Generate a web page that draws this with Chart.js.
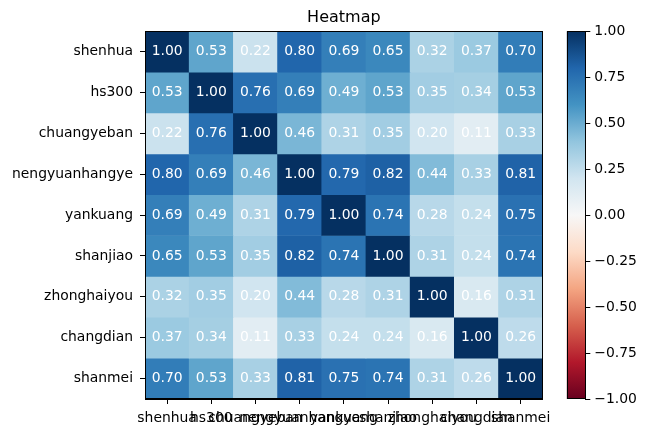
<!DOCTYPE html>
<html><head><meta charset="utf-8">
<script src="https://cdn.jsdelivr.net/npm/chart.js@4"></script>
<style>
html,body{margin:0;padding:0;background:#fff;overflow:hidden}
#wrap{position:relative;width:656px;height:435px}
canvas{position:absolute;left:0;top:0}
</style></head><body>
<div id="wrap"><canvas id="hm" width="656" height="435"></canvas><canvas id="cb" width="656" height="435"></canvas></div>
<script>
const labels = ['shenhua','hs300','chuangyeban','nengyuanhangye','yankuang','shanjiao','zhonghaiyou','changdian','shanmei'];
const values = [
  [1.00,0.53,0.22,0.80,0.69,0.65,0.32,0.37,0.70],
  [0.53,1.00,0.76,0.69,0.49,0.53,0.35,0.34,0.53],
  [0.22,0.76,1.00,0.46,0.31,0.35,0.20,0.11,0.33],
  [0.80,0.69,0.46,1.00,0.79,0.82,0.44,0.33,0.81],
  [0.69,0.49,0.31,0.79,1.00,0.74,0.28,0.24,0.75],
  [0.65,0.53,0.35,0.82,0.74,1.00,0.31,0.24,0.74],
  [0.32,0.35,0.20,0.44,0.28,0.31,1.00,0.16,0.31],
  [0.37,0.34,0.11,0.33,0.24,0.24,0.16,1.00,0.26],
  [0.70,0.53,0.33,0.81,0.75,0.74,0.31,0.26,1.00]
];
const colorbarTicks = [-1,-0.75,-0.5,-0.25,0,0.25,0.5,0.75,1];
const vmin = -1, vmax = 1;
const RDBU = [[103,0,31],[178,24,43],[214,96,77],[244,165,130],[253,219,199],[247,247,247],[209,229,240],[146,197,222],[67,147,195],[33,102,172],[5,48,97]];
function rdbu(v){
  let t = (v - vmin) / (vmax - vmin);
  t = Math.max(0, Math.min(1, t));
  const p = t * 10;
  const k = Math.min(9, Math.floor(p));
  const f = p - k;
  const a = RDBU[k], b = RDBU[k+1];
  const c = a.map((x,i)=>Math.round(x + (b[i]-x)*f));
  return 'rgb(' + c.join(',') + ')';
}
const FONT = 'DejaVu Sans';
const FS = 13.9;
Chart.defaults.font.family = FONT;
Chart.defaults.color = '#000';

const frame = {
  id:'frame',
  afterDraw(chart){
    const ca = chart.chartArea, ctx = chart.ctx;
    ctx.save(); ctx.strokeStyle = '#000'; ctx.lineWidth = 1;
    ctx.strokeRect(Math.round(ca.left)+0.5, Math.round(ca.top)+0.5, Math.round(ca.right-ca.left)-1, Math.round(ca.bottom-ca.top)-1);
    ctx.restore();
  }
};
const cellText = {
  id:'cellText',
  afterDatasetsDraw(chart){
    const ctx = chart.ctx;
    ctx.save();
    ctx.fillStyle = '#fff';
    ctx.font = FS + 'px "' + FONT + '"';
    ctx.textAlign = 'center';
    ctx.textBaseline = 'middle';
    chart.data.datasets.forEach((ds,i)=>{
      chart.getDatasetMeta(i).data.forEach((el,j)=>{
        const y = (el.y + el.base) / 2;
        ctx.fillText(values[i][j].toFixed(2), el.x, y);
      });
    });
    ctx.restore();
  }
};

new Chart(document.getElementById('hm'), {
  type:'bar',
  data:{
    labels: labels,
    datasets: values.map((row,i)=>({
      data: row.map(()=>[i-0.5, i+0.5]),
      backgroundColor: row.map(rdbu),
      barPercentage:1, categoryPercentage:1, grouped:false, borderWidth:0
    }))
  },
  options:{
    responsive:false, animation:false,
    layout:{padding:{left:0,right:113.3,top:0,bottom:0}},
    plugins:{
      legend:{display:false}, tooltip:{enabled:false},
      title:{display:true,text:'Heatmap',fullSize:false,color:'#000',font:{size:16,weight:'normal'},padding:{top:8,bottom:4}}
    },
    scales:{
      x:{
        type:'category', offset:true,
        grid:{display:true, offset:false, drawOnChartArea:false, drawTicks:true, tickLength:5, tickColor:'#000', tickWidth:1},
        border:{display:true, color:'#000', width:1},
        ticks:{color:'#000', font:{size:FS}, maxRotation:0, minRotation:0, autoSkip:false, padding:6},
        afterFit(s){ s.height = 36; }
      },
      y:{
        type:'linear', reverse:true, min:-0.5, max:8.5,
        afterBuildTicks(s){ s.ticks = labels.map((_,i)=>({value:i})); },
        grid:{display:true, drawOnChartArea:false, drawTicks:true, tickLength:5, tickColor:'#000', tickWidth:1},
        border:{display:true, color:'#000', width:1},
        ticks:{color:'#000', font:{size:FS}, padding:7, callback:(v)=>labels[v]},
        afterFit(s){ s.width = 145; }
      }
    }
  },
  plugins:[cellText, frame]
});

new Chart(document.getElementById('cb'), {
  type:'bar',
  data:{
    labels:[''],
    datasets:[{
      data:[[vmin, vmax]],
      backgroundColor(ctx){
        const ca = ctx.chart.chartArea;
        if(!ca) return null;
        const g = ctx.chart.ctx.createLinearGradient(0, ca.bottom, 0, ca.top);
        RDBU.forEach((c,k)=>g.addColorStop(k/10, 'rgb(' + c.join(',') + ')'));
        return g;
      },
      barPercentage:1, categoryPercentage:1, borderWidth:0
    }]
  },
  options:{
    responsive:false, animation:false,
    layout:{padding:{left:566.7,right:0,top:31.2,bottom:36}},
    plugins:{legend:{display:false}, tooltip:{enabled:false}, title:{display:false}},
    scales:{
      x:{display:false, offset:true},
      y:{
        position:'right', min:vmin, max:vmax,
        afterBuildTicks(s){ s.ticks = colorbarTicks.map(v=>({value:v})); },
        grid:{display:true, drawOnChartArea:false, drawTicks:true, tickLength:5, tickColor:'#000', tickWidth:1},
        border:{display:true, color:'#000', width:1},
        ticks:{color:'#000', font:{size:FS}, padding:4, callback:(v)=>(v<0?'\u2212':'') + Math.abs(v).toFixed(2)},
        afterFit(s){ s.width = 656 - 585.3; }
      }
    }
  },
  plugins:[frame]
});
</script>
</body></html>
